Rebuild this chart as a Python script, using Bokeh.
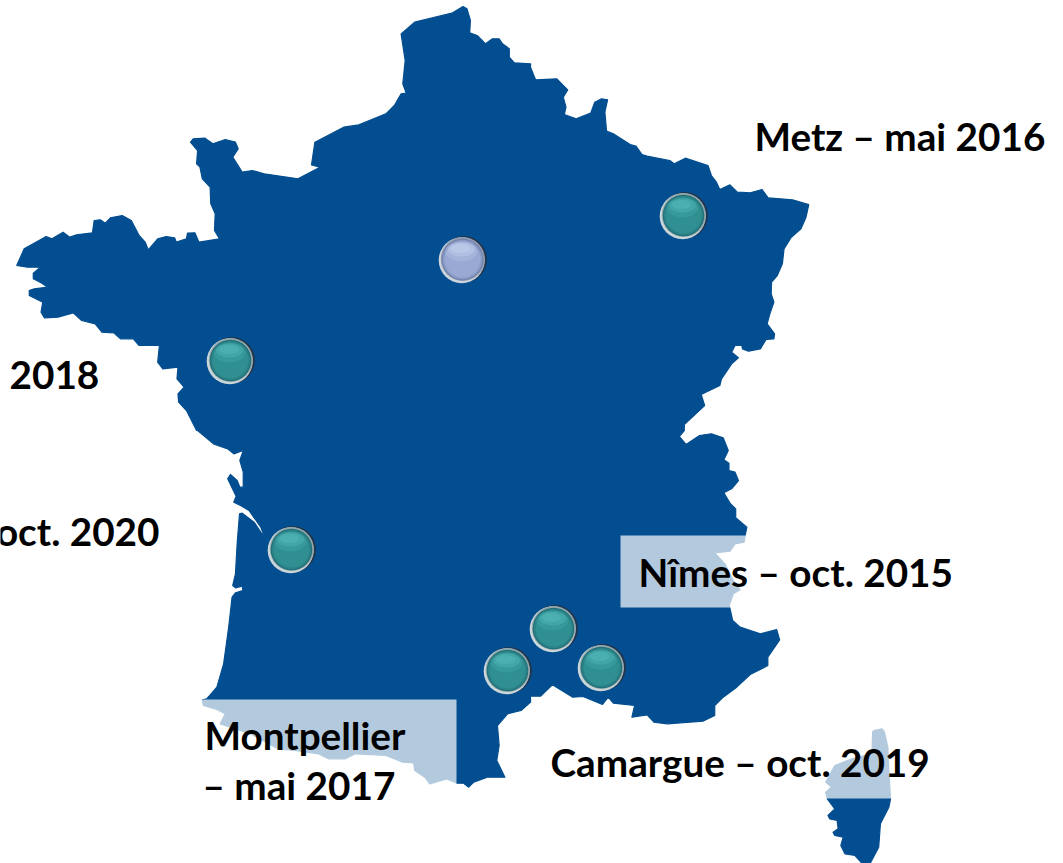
from bokeh.plotting import figure
from bokeh.models import Range1d
from bokeh.core.properties import value
from bokeh.embed import file_html
from bokeh.resources import INLINE

# Outline, in four enlarged views (raw view coordinates)
coast_north = [(1368,18),(1380,25),(1390,60),(1388,97),(1410,105),(1435,130),(1455,115),(1475,115),(1485,130),(1505,145),(1505,170),(1520,187),(1568,190)]
coast_east = [(0,200),(15,238),(78,235),(110,268),(97,290),(105,320),(100,342),(135,355),(178,338),(190,305),(210,295),(228,298),(220,335),(225,392),(245,400),(295,432),(312,437),(330,462),(345,467),(412,480),(425,490),(458,473),(525,495),(535,525),(550,545),(560,567),(590,553),(612,575),(650,577),(685,567),(703,592),(775,598),(823,612),(815,650),(800,685),(770,712),(750,745),(745,790),(730,825),(713,845),(712,880),(720,905),(708,940),(700,970),(722,1000),(720,1015),(697,1017),(680,1045),(645,1052),(627,1045),(625,1035),(605,1035),(595,1055),(615,1072),(595,1090),(565,1135),(560,1155),(505,1182),(515,1215),(455,1272),(455,1290)]
coast_south_east = [(440,18),(460,42),(500,15),(535,10),(570,22),(585,60),(572,88),(587,98),(587,120),(605,125),(615,150),(595,175),(572,187),(590,218),(607,235),(607,262),(640,290),(635,315),(632,335),(605,340),(590,362),(545,367),(575,400),(600,450),(620,478),(600,490),(588,525),(598,570),(620,590),(680,610),(728,597),(737,628),(702,680),(702,705),(650,732),(610,770),(570,800),(545,825),(545,855),(510,872),(405,880),(365,875),(345,853),(300,860),(308,825),(245,818),(230,800),(213,822),(155,798),(125,800),(65,763),(30,797),(0,797)]
coast_south_west = [(1568,815),(1540,840),(1500,850),(1470,885),(1475,945),(1468,990),(1492,1040),(1440,1040),(1400,1055),(1385,1070),(1370,1058),(1350,1058),(1320,1045),(1270,1060),(1255,1040),(1225,1020),(1222,997),(1190,995),(1140,975),(1050,970),(1020,985),(970,985),(940,970),(870,960),(820,955),(740,910),(650,880),(665,850),(635,835),(600,825),(597,808),(610,805),(640,770),(660,700),(675,590),(685,500),(695,487),(717,480),(715,467),(695,472),(687,465),(695,430),(700,340),(707,250),(715,248),(750,275),(783,325),(770,290),(735,240),(710,225),(690,215),(697,197),(672,145),(680,132),(700,150),(708,170),(718,170),(718,125),(708,90),(718,60),(690,70),(672,55),(630,40),(583,0)]
coast_west = [(580,1290),(550,1230),(527,1205),(525,1180),(543,1160),(522,1135),(525,1100),(480,1105),(465,1085),(470,1035),(410,1035),(393,1015),(355,1015),(335,997),(300,995),(280,970),(240,960),(215,937),(170,950),(130,952),(120,935),(125,905),(85,885),(85,870),(100,865),(140,860),(120,847),(97,835),(97,818),(118,800),(80,800),(48,795),(70,745),(135,708),(152,715),(185,695),(205,710),(225,703),(272,697),(277,660),(295,658),(310,668),(325,652),(360,645),(387,660),(410,705),(428,725),(437,748),(465,715),(490,708),(515,712),(520,725),(550,715),(553,698),(575,697),(587,725),(648,715),(633,690),(635,640),(622,610),(620,560),(597,535),(590,500),(580,490),(583,450),(562,425),(570,415),(605,413),(628,430),(665,417),(695,425),(703,445),(687,470),(715,515),(745,510),(780,520),(880,535),(945,500),(920,493),(930,425),(1015,380),(1060,373),(1140,340),(1165,315),(1185,280),(1200,278),(1190,250),(1197,180),(1185,100),(1225,65),(1335,38)]
corsica = [(1015,900),(1040,895),(1047,905),(1057,950),(1060,1020),(1065,1105),(1060,1130),(1035,1180),(1030,1250),(1005,1298),(980,1298),(960,1275),(930,1270),(918,1245),(925,1220),(900,1215),(895,1205),(910,1195),(907,1170),(885,1165),(880,1155),(900,1135),(878,1105),(873,1085),(890,1070),(873,1055),(900,1005),(950,985),(1010,970),(1012,905)]

site_x = [683, 230, 291, 507, 553, 601]
site_y = [215, 360, 549, 670, 628, 667]
hq_x = [462]
hq_y = [259]

label_texts = ["Metz – mai 2016", "2018", "Nîmes – oct. 2015", "Camargue – oct. 2019", "Montpellier", "– mai 2017"]
label_x = [754, 9, 638, 550, 204, 202]
label_y = [135, 374, 571, 761, 734, 784]
clipped_text = ["oct. 2020"]
clipped_x = [159]
clipped_y = [530]

box_left = [620, 190, 800]
box_right = [765, 456, 900]
box_top = [535, 699, 720]
box_bottom = [607, 795, 798]

MAP = "#034E90"
SX = 2.958
SY = 3.0


def trace(points, ox, oy):
    return [ox + a / SX for a, _ in points], [oy + b / SY for _, b in points]


parts = [trace(coast_north, 0, 0), trace(coast_east, 530, 0), trace(coast_south_east, 530, 430),
         trace(coast_south_west, 0, 430), trace(coast_west, 0, 0)]
mx = [v for part in parts for v in part[0]]
my = [v for part in parts for v in part[1]]
cx, cy = trace(corsica, 530, 430)

p = figure(width=1063, height=863, output_backend="svg", toolbar_location=None,
           x_range=Range1d(0, 1063), y_range=Range1d(863, 0), min_border=0,
           background_fill_color="white", border_fill_color="white")
p.axis.visible = False
p.grid.visible = False
p.outline_line_color = None

p.patch(mx, my, fill_color=MAP, line_color=MAP, line_width=1.2, line_join="round")
p.patch(cx, cy, fill_color=MAP, line_color=MAP, line_width=1.2, line_join="round")
p.quad(left=box_left, right=box_right, top=box_top, bottom=box_bottom,
       fill_color="white", fill_alpha=0.7, line_color=None)


def balls(xs, ys, light, ring, edge, low, body, high):
    sh = lambda v, d: [a + d for a in v]
    p.circle(sh(xs, 1.2), sh(ys, -0.2), radius=23.2, fill_color="#22344A", line_color=None)
    p.circle(sh(xs, -0.8), sh(ys, 0.8), radius=23.0, fill_color=light, line_color=None)
    p.circle(sh(xs, 0.3), sh(ys, -0.5), radius=22.0, fill_color=ring, line_color=None)
    p.circle(xs, ys, radius=20.8, fill_color=edge, line_color=None)
    p.circle(xs, ys, radius=19.8, fill_color=low, line_color=None)
    p.circle(xs, ys, radius=18.0, fill_color=body, line_color=None)
    p.ellipse(sh(xs, -1), sh(ys, -8), width=32, height=20, fill_color=high, fill_alpha=0.2, line_color=None)
    p.ellipse(sh(xs, -1), sh(ys, -10), width=27, height=14, fill_color=high, fill_alpha=0.3, line_color=None)
    p.ellipse(sh(xs, -2), sh(ys, -11), width=20, height=9, fill_color=high, fill_alpha=0.35, line_color=None)


balls(site_x, site_y, "#CBD6D9", "#8FA8AE", "#226F78", "#2A8286", "#2F8F91", "#5CC4C2")
balls(hq_x, hq_y, "#CDD4DE", "#8E9BB4", "#7382A8", "#8B9BC7", "#99A9D4", "#CFDAF4")

font = value("Lato")
p.text(label_x, label_y, text=label_texts, text_font=font, text_font_style="bold",
       text_font_size="38.7px", text_color="black", text_baseline="middle", text_align="left")
p.text(clipped_x, clipped_y, text=clipped_text, text_font=font, text_font_style="bold",
       text_font_size="38.7px", text_color="black", text_baseline="middle", text_align="right")

open("out.html", "w").write(file_html(p, INLINE))
